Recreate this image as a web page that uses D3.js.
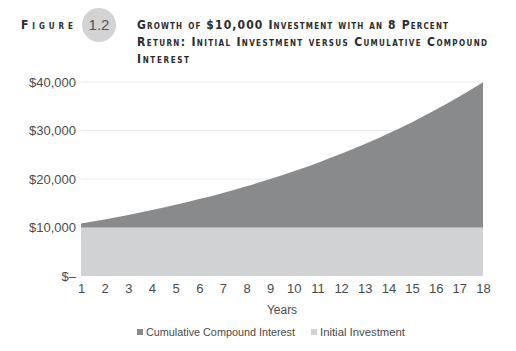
<!DOCTYPE html>
<html>
<head>
<meta charset="utf-8">
<script src="https://cdn.jsdelivr.net/npm/d3@7"></script>
<style>
  body { margin: 0; background: #fff; }
  svg { display: block; }
</style>
</head>
<body>
<svg id="chart"></svg>
<script>
// values
const years = [1, 2, 3, 4, 5, 6, 7, 8, 9, 10, 11, 12, 13, 14, 15, 16, 17, 18];
const initialInvestment = [10000, 10000, 10000, 10000, 10000, 10000, 10000, 10000, 10000,
    10000, 10000, 10000, 10000, 10000, 10000, 10000, 10000, 10000];
const compoundInterest = [800, 1664, 2597, 3605, 4693, 5869, 7138, 8509, 9990,
    11589, 13316, 15182, 17196, 19372, 21722, 24259, 27000, 29960];
const yTicks = [0, 10000, 20000, 30000, 40000];
const yTickLabels = ["$\u2013", "$10,000", "$20,000", "$30,000", "$40,000"];
const seriesNames = ["Cumulative Compound Interest", "Initial Investment"];
const titleLines = [
    "Growth of $10,000 Investment with an 8 Percent",
    "Return: Initial Investment versus Cumulative Compound",
    "Interest"
];

const W = 516, H = 351;
const colors = { interest: "#898a8c", initial: "#d1d2d4" };
const labelFont = "'Liberation Sans', Arial, sans-serif";
const headFont = "'DejaVu Sans Condensed', 'Liberation Sans', sans-serif";

const svg = d3.select("#chart")
    .attr("width", W)
    .attr("height", H)
    .attr("viewBox", [0, 0, W, H]);

// header: "Figure" label, number badge and title
svg.append("text")
    .attr("x", 21)
    .attr("y", 29)
    .attr("textLength", 52)
    .attr("lengthAdjust", "spacing")
    .style("font-family", headFont)
    .style("font-weight", "bold")
    .style("font-variant", "small-caps")
    .style("font-size", "12px")
    .attr("fill", "#2b2b2b")
    .text("Figure");

svg.append("circle")
    .attr("cx", 99)
    .attr("cy", 25)
    .attr("r", 17)
    .attr("fill", "#d3d3d5");

svg.append("text")
    .attr("x", 99)
    .attr("y", 30)
    .attr("text-anchor", "middle")
    .style("font-family", labelFont)
    .style("font-size", "15px")
    .attr("fill", "#555")
    .text("1.2");

const titleWidths = [311, 350, 52];
titleLines.forEach((line, i) => {
    svg.append("text")
        .attr("x", 137)
        .attr("y", 29 + i * 17)
        .attr("textLength", titleWidths[i])
        .attr("lengthAdjust", "spacing")
        .style("font-family", headFont)
        .style("font-weight", "bold")
        .style("font-variant", "small-caps")
        .style("font-size", "12px")
        .attr("fill", "#2b2b2b")
        .text(line);
});

// scales
const x = d3.scaleLinear()
    .domain(d3.extent(years))
    .range([81, 483]);

const y = d3.scaleLinear()
    .domain([0, 40000])
    .range([276, 82]);

// gridlines
svg.append("g")
    .selectAll("line")
    .data(yTicks.slice(1))
    .join("line")
    .attr("x1", x(1))
    .attr("x2", x(18))
    .attr("y1", d => y(d))
    .attr("y2", d => y(d))
    .attr("stroke", "#ececec")
    .attr("stroke-width", 1);

// stacked areas
const table = years.map((yr, i) => ({
    year: yr,
    initial: initialInvestment[i],
    interest: compoundInterest[i]
}));

const stack = d3.stack().keys(["initial", "interest"]);
const layers = stack(table);

const area = d3.area()
    .x(d => x(d.data.year))
    .y0(d => y(d[0]))
    .y1(d => y(d[1]))
    .curve(d3.curveMonotoneX);

svg.append("g")
    .selectAll("path")
    .data(layers)
    .join("path")
    .attr("fill", d => colors[d.key])
    .attr("d", area);

// y axis (labels only)
const yAxis = svg.append("g")
    .attr("transform", "translate(76,0)")
    .call(d3.axisLeft(y).tickValues(yTicks).tickSize(0).tickPadding(0)
        .tickFormat((d, i) => yTickLabels[i]));
yAxis.select(".domain").remove();
yAxis.selectAll("text")
    .style("font-family", labelFont)
    .style("font-size", "13px")
    .attr("fill", "#4a4a4a");

// x axis (labels only)
const xAxis = svg.append("g")
    .attr("transform", "translate(0,284)")
    .call(d3.axisBottom(x).tickValues(years).tickSize(0).tickPadding(0)
        .tickFormat(d3.format("d")));
xAxis.select(".domain").remove();
xAxis.selectAll("text")
    .style("font-family", labelFont)
    .style("font-size", "13px")
    .attr("fill", "#4a4a4a");

svg.append("text")
    .attr("x", 282)
    .attr("y", 314)
    .attr("text-anchor", "middle")
    .style("font-family", labelFont)
    .style("font-size", "12px")
    .attr("fill", "#4a4a4a")
    .text("Years");

// legend
const legendItems = [
    { name: seriesNames[0], color: colors.interest, x: 137, w: 149 },
    { name: seriesNames[1], color: colors.initial, x: 311, w: 85 }
];
const legend = svg.append("g");
legendItems.forEach(item => {
    legend.append("rect")
        .attr("x", item.x)
        .attr("y", 329)
        .attr("width", 6)
        .attr("height", 6)
        .attr("fill", item.color);
    legend.append("text")
        .attr("x", item.x + 9)
        .attr("y", 336)
        .attr("textLength", item.w)
        .attr("lengthAdjust", "spacingAndGlyphs")
        .style("font-family", labelFont)
        .style("font-size", "11.5px")
        .attr("fill", "#4a4a4a")
        .text(item.name);
});
</script>
</body>
</html>
